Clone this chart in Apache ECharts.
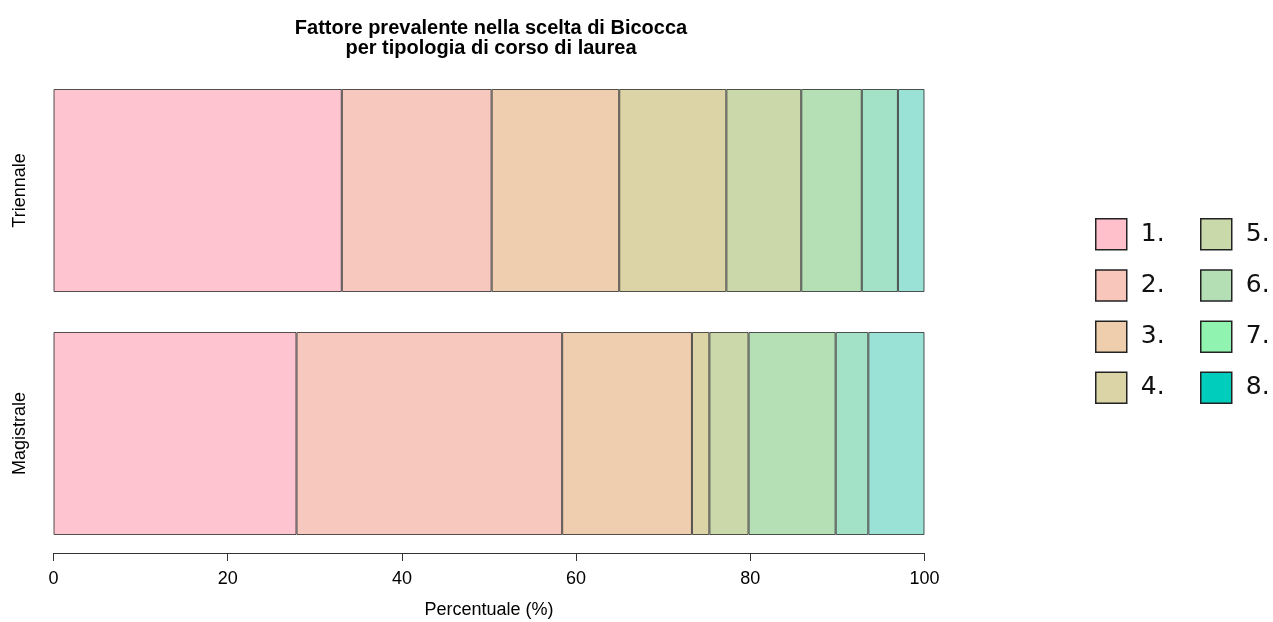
<!DOCTYPE html>
<html>
<head>
<meta charset="utf-8">
<script src="https://cdn.jsdelivr.net/npm/echarts@6/dist/echarts.min.js"></script>
<style>
html,body{margin:0;padding:0;background:#fff;}
#c{width:1273px;height:622px;}
</style>
</head>
<body>
<div id="c"></div>
<script>
const categories = ['Triennale', 'Magistrale'];
const factorNames = ['1.', '2.', '3.', '4.', '5.', '6.', '7.', '8.'];
const f1 = [33.1, 27.9];
const f2 = [17.2, 30.5];
const f3 = [14.65, 14.9];
const f4 = [12.3, 2.0];
const f5 = [8.6, 4.5];
const f6 = [6.95, 10.0];
const f7 = [4.15, 3.75];
const f8 = [3.05, 6.45];
const xTicks = [0, 20, 40, 60, 80, 100];
const barColors = ['#FEC4CF', '#F7C8BD', '#EFCEAF', '#DCD4A6', '#CBD9AA', '#B5DFB5', '#A3E2C6', '#9AE2D6'];
const legendColors = ['#FFC0CB', '#F8C6BA', '#EFCEAE', '#DBD4A6', '#CAD9AA', '#B4DFB5', '#90F4B0', '#00CDBB'];

const values = [f1, f2, f3, f4, f5, f6, f7, f8];
const chart = echarts.init(document.getElementById('c'), null, {renderer: 'canvas'});

const series = factorNames.map((n, i) => ({
  name: n,
  type: 'bar',
  stack: 'all',
  barWidth: 203,
  data: values[i],
  itemStyle: {color: barColors[i], borderColor: 'rgba(40,40,40,0.8)', borderWidth: 1},
  emphasis: {disabled: true},
  animation: false
}));

function legendFor(names, left) {
  return {
    orient: 'vertical',
    left: left,
    top: 213,
    itemWidth: 31,
    itemHeight: 31,
    itemGap: 18.7,
    icon: 'rect',
    selectedMode: false,
    textStyle: {fontFamily: 'DejaVu Sans', fontSize: 25, color: '#111', padding: [0, 0, 0, 9]},
    data: names.map(n => ({name: n, itemStyle: {color: legendColors[factorNames.indexOf(n)], borderColor: '#222', borderWidth: 1.5}}))
  };
}

chart.setOption({
  backgroundColor: '#fff',
  animation: false,
  title: {
    text: 'Fattore prevalente nella scelta di Bicocca\nper tipologia di corso di laurea',
    left: 486,
    textAlign: 'center',
    top: 13,
    textStyle: {fontFamily: 'Liberation Sans', fontWeight: 'bold', fontSize: 20, lineHeight: 20, color: '#000'}
  },
  legend: [legendFor(factorNames.slice(0, 4), 1090), legendFor(factorNames.slice(4), 1195)],
  grid: {left: 53.5, right: 348.5, top: 69, bottom: 67, outerBoundsMode: 'none', containLabel: false},
  xAxis: {
    type: 'value',
    min: 0,
    max: 100,
    interval: 20,
    offset: -2,
    axisLine: {show: true, lineStyle: {color: '#333', width: 1}},
    axisTick: {show: true, length: 8, lineStyle: {color: '#333'}},
    splitLine: {show: false},
    axisLabel: {
      margin: 17,
      fontFamily: 'Liberation Sans',
      fontSize: 18,
      color: '#000',
      formatter: v => xTicks.includes(v) ? String(v) : ''
    },
    name: 'Percentuale (%)',
    nameLocation: 'middle',
    nameGap: 48,
    nameTextStyle: {fontFamily: 'Liberation Sans', fontSize: 18, color: '#000'}
  },
  yAxis: {
    type: 'category',
    data: categories,
    inverse: true,
    axisLine: {show: false},
    axisTick: {show: false},
    axisLabel: {
      rotate: 90,
      margin: 24,
      fontFamily: 'Liberation Sans',
      fontSize: 18,
      color: '#000'
    }
  },
  series: series
});
</script>
</body>
</html>
